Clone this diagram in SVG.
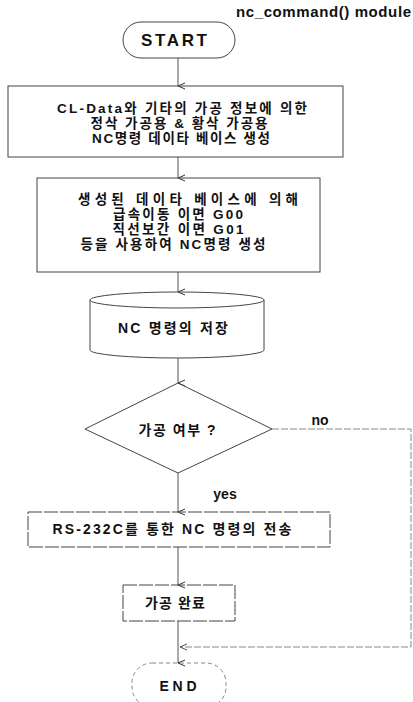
<svg xmlns="http://www.w3.org/2000/svg" width="413" height="702" viewBox="0 0 413 702">
<style>
  .t{font-family:"Liberation Sans","Noto Sans CJK KR",Arial,sans-serif;font-weight:bold;fill:#111;text-anchor:middle;font-size:14px}
  .m{font-size:13.5px}
  .s{fill:none;stroke:#444;stroke-width:1}
  .c{fill:none;stroke:#555;stroke-width:1}
  .d{fill:none;stroke:#888;stroke-width:1;stroke-dasharray:7 2}
</style>
<defs>
  <marker id="ar" markerUnits="userSpaceOnUse" markerWidth="10" markerHeight="10" refX="5" refY="8" orient="auto-start-reverse" viewBox="0 0 10 10">
    <path d="M2,1 L5,8 L8,1" fill="none" stroke="#333" stroke-width="1"/>
  </marker>
  <marker id="al" markerUnits="userSpaceOnUse" markerWidth="10" markerHeight="10" refX="2" refY="5" orient="0" viewBox="0 0 10 10">
    <path d="M9,2 L2,5 L9,8" fill="none" stroke="#555" stroke-width="1"/>
  </marker>
</defs>
<rect width="413" height="702" fill="#fff"/>
<text class="t" x="236" y="17" style="text-anchor:start;font-size:15px" textLength="175" lengthAdjust="spacing">nc_command() module</text>

<g id="connectors">
  <line class="c" x1="178" y1="58" x2="178" y2="86" marker-end="url(#ar)"/>
  <line class="c" x1="178" y1="157" x2="178" y2="178" marker-end="url(#ar)"/>
  <line class="c" x1="178" y1="272" x2="178" y2="292" marker-end="url(#ar)"/>
  <line class="c" x1="178" y1="358" x2="178" y2="383" marker-end="url(#ar)"/>
  <line class="c" x1="178" y1="473" x2="178" y2="512" marker-end="url(#ar)"/>
  <line class="c" x1="178" y1="547" x2="178" y2="585" marker-end="url(#ar)"/>
  <line class="c" x1="178" y1="621" x2="178" y2="663" marker-end="url(#ar)"/>
  <polyline class="d" points="272,429 411,429 411,647 180,647" marker-end="url(#al)"/>
  <text class="t" x="320" y="425">no</text>
  <text class="t" x="225" y="499">yes</text>
</g>

<g id="start">
  <rect class="s" x="123" y="22" width="112" height="36" rx="18" ry="18"/>
  <text class="t" x="174" y="46" style="font-size:17px" textLength="66" lengthAdjust="spacing">START</text>
</g>

<g id="box1">
  <rect class="s" x="8" y="86" width="335" height="71"/>
  <text class="t m" x="182" y="113" textLength="250" lengthAdjust="spacing">CL-Data와 기타의 가공 정보에 의한</text>
  <text class="t m" x="179" y="128" textLength="177" lengthAdjust="spacing">정삭 가공용 &amp; 황삭 가공용</text>
  <text class="t m" x="181" y="143" textLength="178" lengthAdjust="spacing">NC명령 데이타 베이스 생성</text>
</g>

<g id="box2">
  <rect class="s" x="37" y="178" width="283" height="94"/>
  <text class="t m" x="188" y="204" textLength="220" lengthAdjust="spacing">생성된 데이타 베이스에 의해</text>
  <text class="t m" x="178" y="219" textLength="130" lengthAdjust="spacing">급속이동 이면 G00</text>
  <text class="t m" x="178" y="234" textLength="131" lengthAdjust="spacing">직선보간 이면 G01</text>
  <text class="t m" x="173" y="249" textLength="185" lengthAdjust="spacing">등을 사용하여 NC명령 생성</text>
</g>

<g id="store">
  <path class="s" d="M90,300 L90,350 A87,8 0 0 0 264,350 L264,300"/>
  <ellipse class="s" cx="177" cy="300" rx="87" ry="8"/>
  <text class="t" x="173" y="333" textLength="110" lengthAdjust="spacing">NC 명령의 저장</text>
</g>

<g id="decision">
  <polygon class="s" points="178,383 272,429 178,473 85,429"/>
  <text class="t" x="177" y="435" textLength="77" lengthAdjust="spacing">가공 여부 ?</text>
</g>

<g id="box3">
  <rect class="s" x="28" y="512" width="302" height="35" stroke-dasharray="14 2"/>
  <text class="t" x="172" y="534" textLength="239" lengthAdjust="spacing">RS-232C를 통한 NC 명령의 전송</text>
</g>

<g id="box4">
  <rect class="s" x="123" y="585" width="112" height="36" stroke-dasharray="14 2"/>
  <text class="t" x="175" y="608" textLength="60" lengthAdjust="spacing">가공 완료</text>
</g>

<g id="end">
  <rect x="132" y="663" width="94" height="44" rx="20" ry="20" fill="none" stroke="#888" stroke-width="1" stroke-dasharray="4 3"/>
  <text class="t" x="178" y="691" textLength="37" lengthAdjust="spacing">END</text>
</g>
</svg>
